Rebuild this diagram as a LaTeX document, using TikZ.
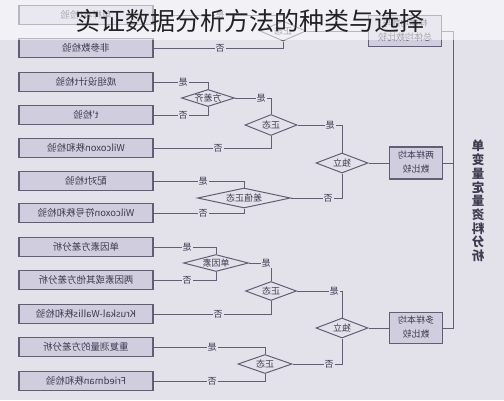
\documentclass[tikz,border=0pt]{standalone}
\usepackage{fontspec}
\newfontfamily\cjk{Noto Sans CJK SC}
\usetikzlibrary{shapes.geometric}
\definecolor{bgc}{RGB}{227,226,234}
\definecolor{boxc}{RGB}{208,205,222}
\definecolor{linec}{RGB}{98,94,116}
\definecolor{txtc}{RGB}{62,58,80}
\definecolor{titlec}{RGB}{35,35,38}
\newcommand\mrr[1]{\reflectbox{#1}}
\begin{document}
\begin{tikzpicture}[x=1pt,y=-1pt,
  box/.style={draw=linec, line width=1.3pt, fill=boxc, minimum width=134pt, minimum height=19pt, inner sep=0pt, font=\cjk\fontsize{9.5}{10}\selectfont, text=txtc},
  rbox/.style={draw=linec, line width=1.3pt, fill=boxc, inner sep=0pt, font=\cjk\fontsize{9}{13.5}\selectfont, text=txtc},
  dia/.style={diamond, draw=linec, line width=1pt, fill=bgc, inner sep=0pt, font=\cjk\fontsize{9}{9}\selectfont, text=txtc},
  conn/.style={draw=linec, line width=0.9pt},
  lbl/.style={fill=bgc, inner sep=1pt, font=\cjk\fontsize{9}{9}\selectfont, text=txtc}]
\useasboundingbox (0,0) rectangle (504,400);
\fill[bgc] (0,0) rectangle (504,400);

% left boxes
\node[box] (b1) at (86,15) {\mrr{单样本t检验}};
\node[box] (b2) at (86,48) {\mrr{非参数检验}};
\node[box] (b3) at (86,82) {\mrr{成组设计t检验}};
\node[box] (b4) at (86,115) {\mrr{t'检验}};
\node[box] (b5) at (86,148) {\mrr{Wilcoxon秩和检验}};
\node[box] (b6) at (86,181) {\mrr{配对t检验}};
\node[box] (b7) at (86,213) {\mrr{Wilcoxon符号秩和检验}};
\node[box] (b8) at (86,247) {\mrr{单因素方差分析}};
\node[box] (b9) at (86,280) {\mrr{两因素或其他方差分析}};
\node[box] (b10) at (86,314) {\mrr{Kruskal-Wallis秩和检验}};
\node[box] (b11) at (86,347) {\mrr{重复测量的方差分析}};
\node[box] (b12) at (86,381) {\mrr{Friedman秩和检验}};

% diamonds
\node[dia, minimum width=46pt, minimum height=20pt, aspect=2.3] (d0) at (283,31) {\mrr{正态}};
\node[dia, minimum width=50pt, minimum height=16pt, aspect=3.1] (d1) at (208,98) {\mrr{方差齐}};
\node[dia, minimum width=52pt, minimum height=21pt, aspect=2.5] (d2) at (271,125) {\mrr{正态}};
\node[dia, minimum width=52pt, minimum height=20pt, aspect=2.6] (d3) at (342,163) {\mrr{独立}};
\node[dia, minimum width=93pt, minimum height=20pt, aspect=4.6] (d4) at (244,198) {\mrr{差值正态}};
\node[dia, minimum width=65pt, minimum height=17pt, aspect=3.8] (d5) at (216,263) {\mrr{单因素}};
\node[dia, minimum width=51pt, minimum height=19pt, aspect=2.7] (d6) at (271,291) {\mrr{正态}};
\node[dia, minimum width=52pt, minimum height=20pt, aspect=2.6] (d7) at (342,328) {\mrr{独立}};
\node[dia, minimum width=54pt, minimum height=19pt, aspect=2.8] (d8) at (265,364) {\mrr{正态}};

% right boxes
\node[rbox, minimum width=73pt, minimum height=31pt] (r0) at (405,31) {\mrr{\begin{tabular}{@{}c@{}}样本均数与\\总体均数比较\end{tabular}}};
\node[rbox, minimum width=53pt, minimum height=32pt] (r1) at (416,163) {\mrr{\begin{tabular}{@{}c@{}}两样本均\\数比较\end{tabular}}};
\node[rbox, minimum width=53pt, minimum height=31pt] (r2) at (416,328) {\mrr{\begin{tabular}{@{}c@{}}多样本均\\数比较\end{tabular}}};

% vertical title
\node[text=txtc, inner sep=0pt] (vt) at (478,201) {\mrr{\parbox{15pt}{\centering\cjk\bfseries\fontsize{12.5}{13.7}\selectfont 单\\变\\量\\定\\量\\资\\料\\分\\析}}};

% spine
\coordinate (st) at (453,31);
\coordinate (sb) at (453,328);
\draw[conn] (r0.east) -- (st) -- (sb) -- (r2.east);
\draw[conn] (r1.east) -- (r1.east -| st);

% connectors
\draw[conn] (b1.east) -| (d0.north);
\draw[conn] (b2.east) -| (d0.south);
\draw[conn] (d0.east) -- (r0.west);
\draw[conn] (b3.east) -| (d1.north);
\draw[conn] (b4.east) -| (d1.south);
\draw[conn] (d1.east) -| (d2.north);
\draw[conn] (d2.south) |- (b5.east);
\draw[conn] (d2.east) -| (d3.north);
\draw[conn] (d3.east) -- (r1.west);
\draw[conn] (d3.south) |- (d4.east);
\draw[conn] (b6.east) -| (d4.north);
\draw[conn] (b7.east) -| (d4.south);
\draw[conn] (b8.east) -| (d5.north);
\draw[conn] (b9.east) -| (d5.south);
\draw[conn] (d5.east) -| (d6.north);
\draw[conn] (d6.south) |- (b10.east);
\draw[conn] (d6.east) -| (d7.north);
\draw[conn] (d7.east) -- (r2.west);
\draw[conn] (d7.south) |- (d8.east);
\draw[conn] (b11.east) -| (d8.north);
\draw[conn] (b12.east) -| (d8.south);

% labels
\node[lbl] (l1) at (220,15) {\mrr{是}};
\node[lbl] (l2) at (220,48) {\mrr{否}};
\node[lbl] (l3) at (183,82) {\mrr{是}};
\node[lbl] (l4) at (183,115) {\mrr{否}};
\node[lbl] (l5) at (261,98) {\mrr{是}};
\node[lbl] (l6) at (218,148) {\mrr{否}};
\node[lbl] (l7) at (330,125) {\mrr{是}};
\node[lbl] (l8) at (328,198) {\mrr{否}};
\node[lbl] (l9) at (203,181) {\mrr{是}};
\node[lbl] (l10) at (203,213) {\mrr{否}};
\node[lbl] (l11) at (187,247) {\mrr{是}};
\node[lbl] (l12) at (187,280) {\mrr{否}};
\node[lbl] (l13) at (266,263) {\mrr{是}};
\node[lbl] (l14) at (218,314) {\mrr{否}};
\node[lbl] (l15) at (334,291) {\mrr{是}};
\node[lbl] (l16) at (329,364) {\mrr{否}};
\node[lbl] (l17) at (212,347) {\mrr{是}};
\node[lbl] (l18) at (212,381) {\mrr{否}};

% top overlay and title
\fill[white, opacity=0.55] (0,0) rectangle (504,40);
\node[font=\cjk\fontsize{25}{25}\selectfont, text=titlec, inner sep=0pt] (title) at (250,21) {实证数据分析方法的种类与选择};
\end{tikzpicture}
\end{document}
